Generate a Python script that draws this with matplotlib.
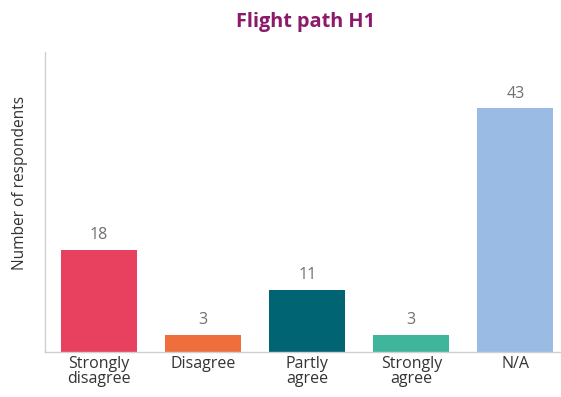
import matplotlib
matplotlib.use("Agg")
import matplotlib.pyplot as plt

categories = ["Strongly\ndisagree", "Disagree", "Partly\nagree", "Strongly\nagree", "N/A"]
values = [18, 3, 11, 3, 43]
colors = ["#E8405F", "#EE6F3C", "#016473", "#3FB69B", "#9ABBE3"]

plt.rcParams['font.family'] = ['Open Sans', 'DejaVu Sans']
fig = plt.figure(figsize=(5.61, 3.97), dpi=100)
ax = fig.add_axes([0.0802, 0.1134, 0.92, 0.756])
x = range(len(categories))
bars = ax.bar(x, values, width=0.73, color=colors)
for xi, v in zip(x, values):
    ax.text(xi, v + 1.2, str(v), ha='center', va='bottom', fontsize=11.5, color='#707070')
ax.set_xlim(-0.52, 4.44)
ax.set_ylim(0, 53)
ax.set_xticks(list(x))
ax.set_xticklabels(categories, fontsize=11.5, color='#333333', linespacing=0.9)
ax.tick_params(axis='x', length=0, pad=3)
ax.set_yticks([])
for s in ['top', 'right']:
    ax.spines[s].set_visible(False)
for s in ['left', 'bottom']:
    ax.spines[s].set_color('#d0d0d0')
    ax.spines[s].set_linewidth(1)
fig.text(20 / 561, 1 - 183 / 397, "Number of respondents", rotation=90, ha='center', va='center',
         fontsize=11.2, color='#333333')
fig.text(0.545, 1 - 22 / 397, "Flight path H1", ha='center', va='center', fontsize=14.3,
         fontweight='bold', color='#8B1A6B')
fig.savefig("out.png", dpi=100)
